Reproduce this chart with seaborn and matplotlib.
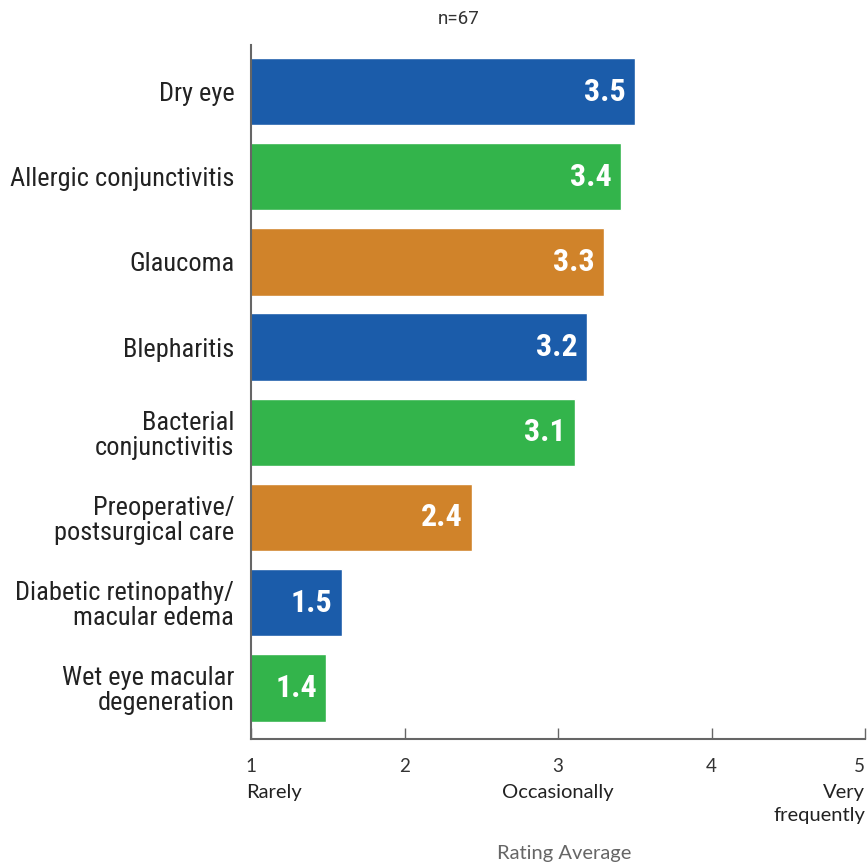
import matplotlib
matplotlib.use("Agg")
import matplotlib.pyplot as plt
from matplotlib import font_manager
import seaborn as sns
import pandas as pd

conditions = ["Dry eye", "Allergic conjunctivitis", "Glaucoma", "Blepharitis",
              "Bacterial\nconjunctivitis", "Preoperative/\npostsurgical care",
              "Diabetic retinopathy/\nmacular edema", "Wet eye macular\ndegeneration"]
ratings = [3.5, 3.41, 3.3, 3.19, 3.11, 2.44, 1.59, 1.49]
labels = ["3.5", "3.4", "3.3", "3.2", "3.1", "2.4", "1.5", "1.4"]
colors = ["#1b5caa", "#33b44b", "#d0832a", "#1b5caa", "#33b44b", "#d0832a", "#1b5caa", "#33b44b"]
tick_vals = [1, 2, 3, 4, 5]
tick_words = ["Rarely", "Occasionally", "Very\nfrequently"]

# look for a condensed face, fall back to Roboto
cond = [f for f in font_manager.fontManager.ttflist
        if "Condensed" in f.name or "Narrow" in f.name
        or f.stretch in ("condensed", "semi-condensed", "extra-condensed", 300, 400)]
cond.sort(key=lambda f: ("Roboto" not in f.name, "Liberation" not in f.name, f.name))
if cond:
    fam, stretch = cond[0].name, cond[0].stretch
else:
    fam, stretch = "Roboto", "normal"

sns.set_theme(style="white")
plt.rcParams['font.family'] = [fam, 'DejaVu Sans']
plt.rcParams['font.stretch'] = stretch
axis_font = dict(family=["Lato", "DejaVu Sans"], stretch="normal")

df = pd.DataFrame({"condition": conditions, "rating": ratings})

fig = plt.figure(figsize=(8.67, 8.65), dpi=100)
ax = fig.add_axes([251/867, 1 - 739/865, (865-251)/867, (739-45)/865])

sns.barplot(data=df, x="rating", y="condition", hue="condition", palette=colors,
            legend=False, width=0.79, saturation=1, ax=ax)
ax.set_xlim(1, 5)
ax.set_ylim(7.6, -0.546)

for i, (v, lab) in enumerate(zip(ratings, labels)):
    ax.text(v - 0.06, i, lab, color="white", fontsize=23, fontweight="bold",
            ha="right", va="center")

ax.set_ylabel("")
ax.set_xlabel("")
ax.tick_params(axis="y", length=0, labelsize=19, labelcolor="#222222", pad=12)
for t in ax.get_yticklabels():
    t.set_multialignment("right")
    t.set_linespacing(1.05)
ax.set_xticks(tick_vals)
ax.set_xticklabels([str(t) for t in tick_vals], **axis_font)
ax.get_xticklabels()[-1].set_ha("right")
ax.tick_params(axis="x", direction="in", length=8, color="#666666", width=1,
               labelsize=13.5, labelcolor="#333333", pad=14, bottom=True)
for s in ["top", "right"]:
    ax.spines[s].set_visible(False)
for s in ["left", "bottom"]:
    ax.spines[s].set_color("#666666")
    ax.spines[s].set_linewidth(1.5)

# word labels under the numbers
trans = ax.get_xaxis_transform()
ax.text(1 - 0.03, -0.065, tick_words[0], transform=trans, ha="left", va="top", fontsize=14.5,
        color="#222222", **axis_font)
ax.text(3, -0.065, tick_words[1], transform=trans, ha="center", va="top", fontsize=14.5,
        color="#222222", **axis_font)
ax.text(5.0, -0.065, tick_words[2], transform=trans, ha="right", va="top", fontsize=14.5,
        color="#222222", multialignment="right", linespacing=1.4, **axis_font)

fig.text(564/867, 1 - 853/865, "Rating Average", ha="center", va="center", fontsize=14.5,
         color="#666666", **axis_font)
fig.text(459/867, 1 - 19/865, "n=67", ha="center", va="center", fontsize=13.5,
         color="#333333", family=["Roboto", "DejaVu Sans"], stretch="normal")

fig.savefig("out.png", dpi=100)
